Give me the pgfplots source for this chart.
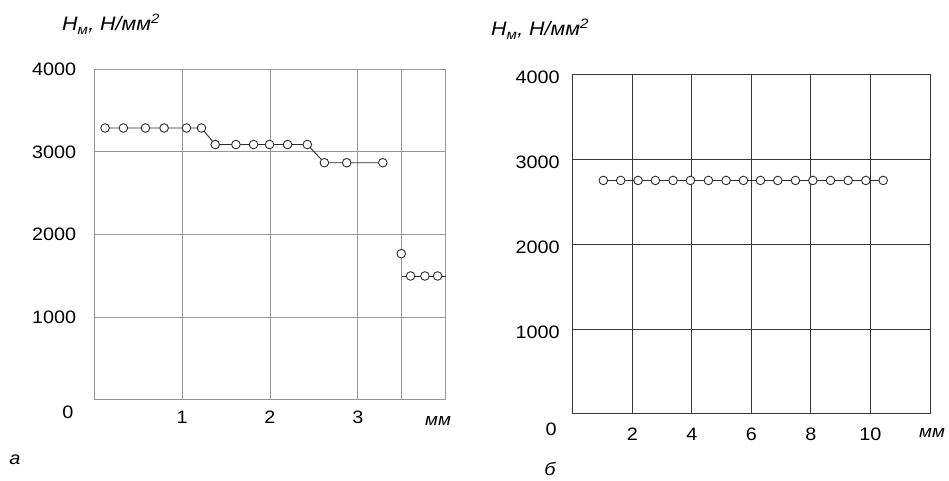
\documentclass[border=0pt]{standalone}
\usepackage{fontspec}
\setmainfont[FakeStretch=1.1]{Liberation Sans}
\usepackage{pgfplots}
\pgfplotsset{compat=1.18}
\definecolor{lgrid}{RGB}{150,150,150}
\definecolor{dgrid}{RGB}{55,55,55}
\definecolor{ln}{RGB}{45,45,45}
\pgfplotsset{myax/.style={
  scale only axis, anchor=south west,
  xmin=0, ymin=0, ymax=4000,
  ytick={1000,2000,3000,4000},
  grid=major, major tick length=0pt,
  tick label style={font=\fontsize{18}{18}\selectfont},
  /pgf/number format/assume math mode=true,
  /pgf/number format/1000 sep={},
  yticklabel style={anchor=east, inner sep=0pt},
  xticklabel style={anchor=north, inner sep=0pt},
  clip=false,
  every axis plot/.append style={color=ln, line width=0.9pt, mark size=4.3pt,
    mark options={fill=white, draw=ln, line width=0.9pt, solid}},
}}
\begin{document}
\begin{tikzpicture}[x=1pt,y=1pt]
\path[use as bounding box] (0,0) rectangle (949,481);
% left chart (a)
\begin{axis}[myax, at={(94.3pt,81pt)}, width=351.4pt, height=330.7pt,
  xmax=4, xtick={1,2,3},
  extra x ticks={3.5}, extra x tick labels={},
  extra x tick style={grid style={lgrid, line width=1pt}},
  axis line style={lgrid, line width=1pt},
  grid style={lgrid, line width=1pt},
  yticklabel style={xshift=-18pt},
  xticklabel style={yshift=-11pt}]
\addplot[mark=*] coordinates {(0.122,3290)(0.331,3290)(0.582,3290)(0.795,3290)(1.049,3290)(1.220,3290)
 (1.376,3090)(1.612,3090)(1.813,3090)(1.995,3090)(2.200,3090)(2.425,3090)
 (2.619,2870)(2.873,2870)(3.284,2870)};
\addplot[only marks, mark=*] coordinates {(3.494,1770)};
\addplot[mark=*, mark indices={2,3,4}] coordinates {(3.5,1500)(3.6,1500)(3.763,1500)(3.908,1500)(4.0,1500)};
\end{axis}
% right chart (b)
\begin{axis}[myax, at={(572.8pt,67pt)}, width=357.2pt, height=339.7pt,
  xmax=12, xtick={2,4,6,8,10},
  axis line style={dgrid, line width=1pt},
  grid style={dgrid, line width=1pt},
  yticklabel style={xshift=-13pt, yshift=-3pt},
  xticklabel style={yshift=-14pt}]
\addplot[mark=*] coordinates {(1.026,2750)(1.609,2750)(2.192,2750)(2.774,2750)(3.368,2750)(3.951,2750)
 (4.556,2750)(5.150,2750)(5.732,2750)(6.304,2750)(6.886,2750)(7.480,2750)(8.063,2750)
 (8.657,2750)(9.250,2750)(9.844,2750)(10.427,2750)};
\end{axis}
% texts
\node[font=\fontsize{19.5}{19.5}\selectfont\itshape] at (111,457) {H\textsubscript{м}, Н/мм\textsuperscript{2}};
\node[font=\fontsize{19.5}{19.5}\selectfont\itshape] at (540,452) {H\textsubscript{м}, Н/мм\textsuperscript{2}};
\node[font=\fontsize{18}{18}\selectfont] at (68,69) {0};
\node[font=\fontsize{18}{18}\selectfont] at (551,52) {0};
\node[font=\fontsize{17}{17}\selectfont\itshape] at (438,60) {мм};
\node[font=\fontsize{17}{17}\selectfont\itshape] at (932,48) {мм};
\node[font=\fontsize{18}{18}\selectfont\itshape] at (15,21) {а};
\node[font=\fontsize{18}{18}\selectfont\itshape] at (550,12) {б};
\end{tikzpicture}
\end{document}
